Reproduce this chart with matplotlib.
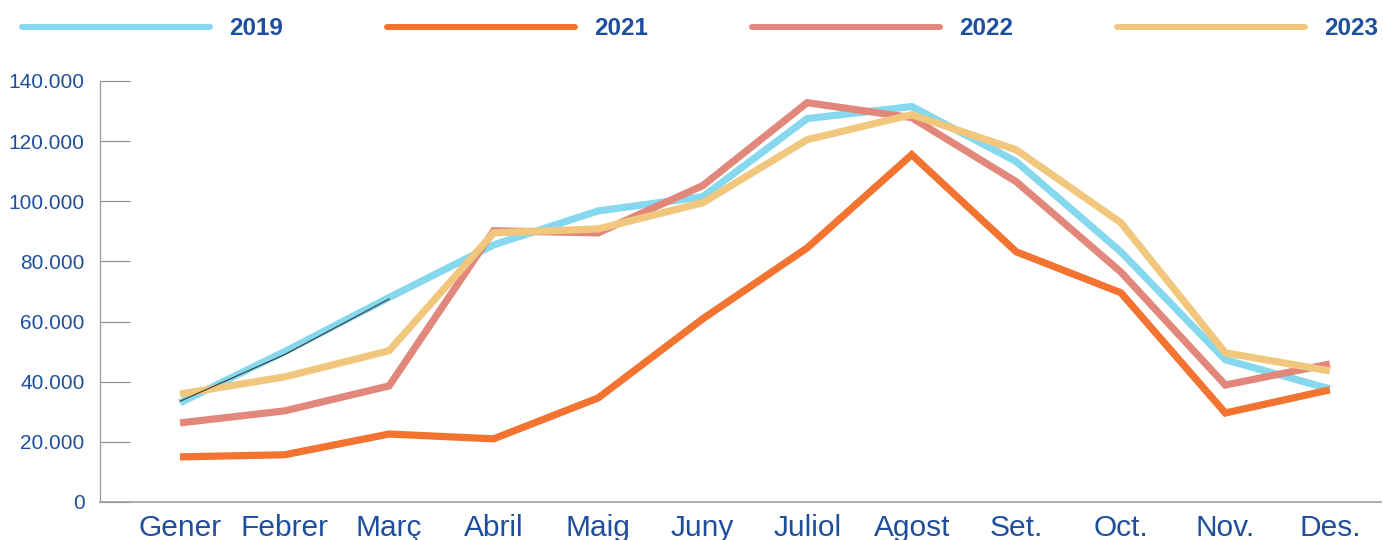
import matplotlib
matplotlib.use("Agg")
import matplotlib.pyplot as plt
from matplotlib.ticker import FuncFormatter

months = ["Gener", "Febrer", "Març", "Abril", "Maig", "Juny",
          "Juliol", "Agost", "Set.", "Oct.", "Nov.", "Des."]

v2019 = [33000, 50000, 68000, 85500, 96800, 101500, 127500, 131500, 113200, 83200, 47300, 37600]
v2021 = [15000, 15700, 22600, 21000, 34600, 60900, 84500, 115500, 83200, 69600, 29600, 37300]
v2022 = [26300, 30300, 38600, 90200, 89500, 105200, 132800, 127800, 106500, 76500, 38900, 45900]
v2023 = [35900, 41600, 50300, 89500, 90800, 99500, 120500, 128800, 117100, 92900, 49600, 43600]
# thin dark trace drawn over the start of 2019
trace = [33500, 49000, 67500]

yticks = [0, 20000, 40000, 60000, 80000, 100000, 120000, 140000]

blue_txt = "#1F4F9C"
colors = {"2019": "#86D8EE", "2021": "#F37330", "2022": "#E2877C", "2023": "#F1C77E"}

fig = plt.figure(figsize=(13.83, 5.40), dpi=100)
ax = fig.add_axes([0.0723, 0.0704, 0.9263, 0.7796])

x = list(range(len(months)))
series = [("2019", v2019, 2), ("2021", v2021, 3), ("2022", v2022, 4), ("2023", v2023, 5)]
handles = {}
for name, vals, z in series:
    (ln,) = ax.plot(x, vals, color=colors[name], lw=5.2, solid_capstyle="butt",
                    solid_joinstyle="miter", zorder=z, label=name)
    handles[name] = ln
ax.plot(x[:len(trace)], trace, color="#3a4650", lw=0.9, zorder=6)

ax.set_xlim(-0.766, 11.49)
ax.set_ylim(0, 140000)
ax.set_yticks(yticks)
ax.yaxis.set_major_formatter(FuncFormatter(lambda v, p: f"{int(v):,}".replace(",", ".")))
ax.set_xticks(x)
ax.set_xticklabels(months)

for s in ["top", "right"]:
    ax.spines[s].set_visible(False)
ax.spines["left"].set_color("#9a9a9a")
ax.spines["left"].set_linewidth(0.9)
ax.spines["bottom"].set_color("#a0a0a0")
ax.spines["bottom"].set_linewidth(1.2)

ax.tick_params(axis="y", direction="in", length=21.6, width=0.8, color="#8c8c8c",
               pad=11, labelsize=15, labelcolor=blue_txt)
ax.tick_params(axis="x", length=0, pad=9, labelsize=21.5, labelcolor=blue_txt)
for lab in ax.get_yticklabels() + ax.get_xticklabels():
    lab.set_family(["Liberation Sans", "DejaVu Sans"])

leg = fig.legend([handles[k] for k in ["2019", "2021", "2022", "2023"]],
                 ["2019", "2021", "2022", "2023"],
                 loc="upper left", bbox_to_anchor=(0.002, 1.004), ncol=4, frameon=False,
                 handlelength=7.74, handletextpad=0.78, columnspacing=4.28,
                 borderpad=0.3, prop={"family": "Liberation Sans", "weight": "bold", "size": 17.5})
for t in leg.get_texts():
    t.set_color(blue_txt)
for h in leg.legend_handles:
    h.set_linewidth(4.3)
    h.set_solid_capstyle("round")

fig.savefig("out.png", dpi=100)
